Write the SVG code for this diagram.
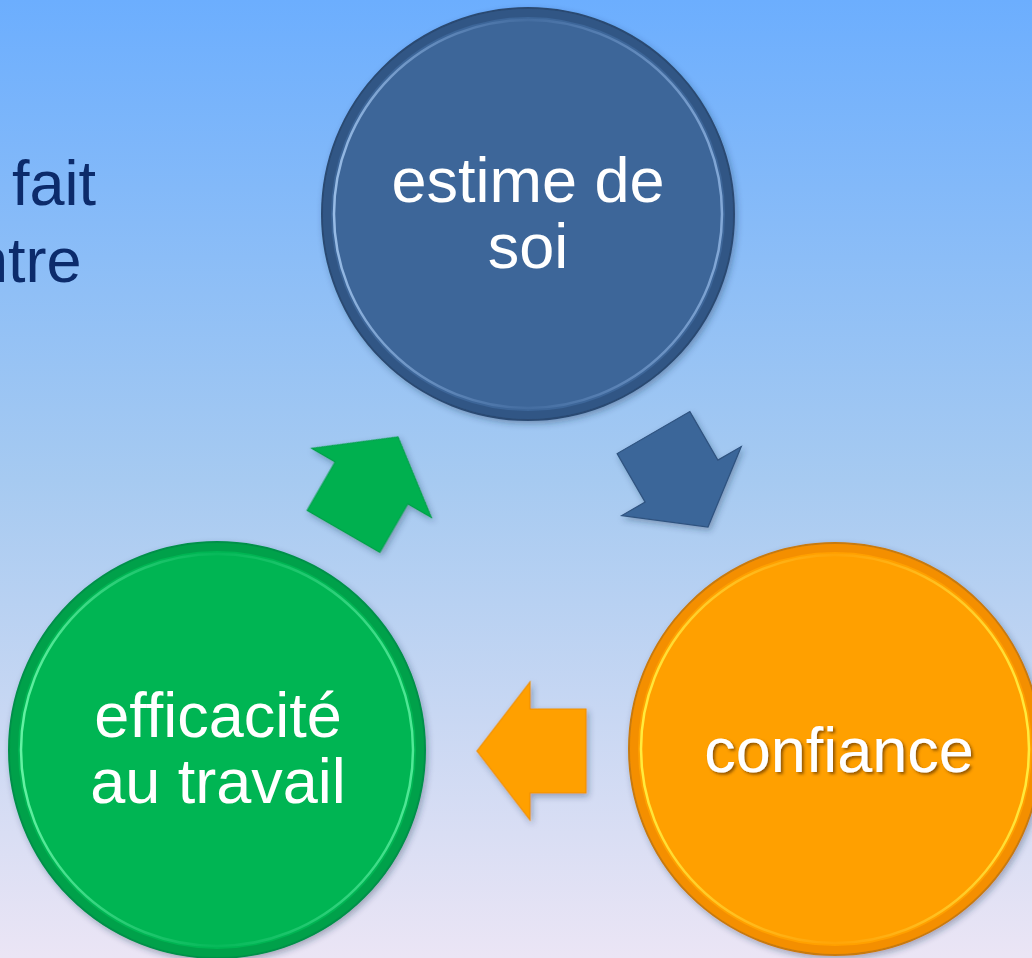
<svg xmlns="http://www.w3.org/2000/svg" width="1032" height="958" viewBox="0 0 1032 958">
<style>
.lbl{font-family:"Liberation Sans",Arial,sans-serif;font-size:63px;fill:#ffffff;text-anchor:middle}
.side{font-family:"Liberation Sans",Arial,sans-serif;font-size:63px;fill:#0c2b6b}
.ring{fill:none;stroke-width:2.5}
.band{fill:none;stroke-width:8;stroke-opacity:0.35}
</style>
<defs>
<linearGradient id="bg" x1="0" y1="0" x2="0" y2="1">
<stop offset="0" stop-color="#6caefe"/>
<stop offset="0.5" stop-color="#a6caf1"/>
<stop offset="1" stop-color="#ebe5f5"/>
</linearGradient>
<linearGradient id="rimB" x1="0" y1="0" x2="1" y2="0">
<stop offset="0" stop-color="#9cc0ea" stop-opacity="0.95"/>
<stop offset="0.5" stop-color="#6d96cc" stop-opacity="0.15"/>
<stop offset="1" stop-color="#8fb4e2" stop-opacity="0.85"/>
</linearGradient>
<linearGradient id="rimG" x1="0" y1="0" x2="1" y2="0">
<stop offset="0" stop-color="#6af5a8" stop-opacity="0.95"/>
<stop offset="0.5" stop-color="#30d080" stop-opacity="0.15"/>
<stop offset="1" stop-color="#5aee9e" stop-opacity="0.9"/>
</linearGradient>
<linearGradient id="rimO" x1="0" y1="0" x2="1" y2="0">
<stop offset="0" stop-color="#fff040" stop-opacity="0.95"/>
<stop offset="0.5" stop-color="#ffc030" stop-opacity="0.15"/>
<stop offset="1" stop-color="#fff040" stop-opacity="0.95"/>
</linearGradient>
<filter id="sh" x="-20%" y="-20%" width="140%" height="140%">
<feDropShadow dx="2" dy="3" stdDeviation="3" flood-color="#203050" flood-opacity="0.35"/>
</filter>
<filter id="tsh" x="-10%" y="-30%" width="120%" height="160%">
<feDropShadow dx="2" dy="2" stdDeviation="1.5" flood-color="#603000" flood-opacity="0.7"/>
</filter>
<path id="arrow" d="M-54.5,-42 L1.5,-42 L1.5,-69 L54.5,0 L1.5,69 L1.5,42 L-54.5,42 Z"/>
</defs>
<rect width="1032" height="958" fill="url(#bg)"/>
<text class="side" x="12" y="205">fait</text>
<text class="side" x="-27" y="282">ntre</text>
<g id="connectors" filter="url(#sh)">
<use href="#arrow" transform="translate(680.75,479.8) rotate(60)" fill="#3b6699" stroke="#2e527f" stroke-width="1.2"/>
<use href="#arrow" transform="translate(531.5,751) rotate(180)" fill="#ffa000" stroke="#f09000" stroke-width="1.2"/>
<use href="#arrow" transform="translate(370.75,484.2) rotate(-60)" fill="#00b050" stroke="#00a048" stroke-width="1.2"/>
</g>
<g id="node-estime">
<circle cx="528" cy="214" r="206" fill="#3c6699" stroke="#2a4a72" stroke-width="2" filter="url(#sh)"/>
<circle class="band" cx="528" cy="214" r="201" stroke="#1e3a60"/>
<circle class="ring" cx="528" cy="214" r="194" stroke="url(#rimB)"/>
<text class="lbl" x="528" y="202">estime de</text>
<text class="lbl" x="528" y="268">soi</text>
</g>
<g id="node-efficacite">
<circle cx="217" cy="750" r="208" fill="#00b552" stroke="#00904a" stroke-width="2" filter="url(#sh)"/>
<circle class="band" cx="217" cy="750" r="203" stroke="#007a3a"/>
<circle class="ring" cx="217" cy="750" r="196" stroke="url(#rimG)"/>
<text class="lbl" x="218" y="737">efficacité</text>
<text class="lbl" x="218" y="803">au travail</text>
</g>
<g id="node-confiance">
<circle cx="835" cy="749" r="206" fill="#ffa000" stroke="#c87a10" stroke-width="2" filter="url(#sh)"/>
<circle class="band" cx="835" cy="749" r="201" stroke="#e07000"/>
<circle class="ring" cx="835" cy="749" r="194" stroke="url(#rimO)"/>
<text class="lbl" x="839" y="772" filter="url(#tsh)">confiance</text>
</g>
</svg>
